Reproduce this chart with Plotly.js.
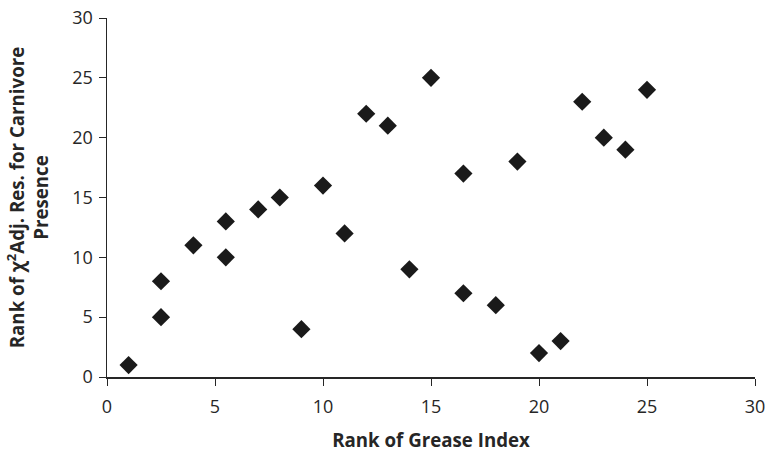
<!DOCTYPE html>
<html><head><meta charset="utf-8">
<script src="https://cdn.plot.ly/plotly-3.0.1.min.js"></script>
<style>html,body{margin:0;padding:0;background:#fff}</style>
</head><body><div id="chart" style="width:769px;height:454px"></div>
<script>
const greaseRank = [1, 2.5, 2.5, 4, 5.5, 5.5, 7, 8, 9, 10, 11, 12, 13, 14, 15, 16.5, 16.5, 18, 19, 20, 21, 22, 23, 24, 25];
const carnivoreRank = [1, 8, 5, 11, 13, 10, 14, 15, 4, 16, 12, 22, 21, 9, 25, 17, 7, 6, 18, 2, 3, 23, 20, 19, 24];
const tickVals = [0, 5, 10, 15, 20, 25, 30];
const xTitle = "Rank of Grease Index";
const yTitle = "Rank of χ<sup>2</sup>Adj. Res. for Carnivore<br>Presence";

const fontFam = "Open Sans, Liberation Sans, sans-serif";
Plotly.newPlot("chart", [{
  x: greaseRank, y: carnivoreRank, type: "scatter", mode: "markers",
  marker: {symbol: "diamond", size: 14, color: "#1a1a1a"}
}], {
  width: 769, height: 454,
  margin: {l: 107, r: 14, t: 18, b: 77},
  paper_bgcolor: "#fff", plot_bgcolor: "#fff",
  showlegend: false,
  font: {family: fontFam, color: "#262626", size: 18},
  xaxis: {range: [0, 30], tickvals: tickVals, showgrid: false, zeroline: false,
    showline: true, linecolor: "#262626", linewidth: 1.5, ticks: "outside", ticklen: 7, tickcolor: "#262626",
    ticklabelstandoff: 6,
    tickfont: {size: 18}, title: {text: xTitle, font: {size: 18.7, weight: "bold"}, standoff: 17}},
  yaxis: {range: [0, 30], tickvals: tickVals, showgrid: false, zeroline: false,
    showline: true, linecolor: "#262626", linewidth: 1.5, ticks: "outside", ticklen: 7, tickcolor: "#262626",
    ticklabelstandoff: 2,
    tickfont: {size: 18}, title: {text: yTitle, font: {size: 18.7, weight: "bold"}, standoff: 18}}
}, {displayModeBar: false, staticPlot: true});
</script></body></html>
